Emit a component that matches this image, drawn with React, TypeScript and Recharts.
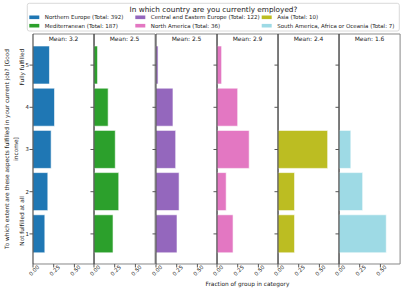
import React from 'react';
import { BarChart, Bar, XAxis, YAxis } from 'recharts';

// answer levels, top to bottom
const LEVELS = [5, 4, 3, 2, 1];
const LEVEL_NAMES: Record<number, string> = {
  5: 'Fully fulfilled',
  1: 'Not fulfilled at all',
};

const REGIONS = [
  'Northern Europe',
  'Mediterranean',
  'Central and Eastern Europe',
  'North America',
  'Asia',
  'South America, Africa or Oceania',
];
const TOTALS = [392, 187, 122, 36, 10, 7];
const COLORS = ['#1f77b4', '#2ca02c', '#9467bd', '#e377c2', '#bcbd22', '#9edae5'];

// fraction of group per level (5 -> 1)
const NORTHERN_EUROPE = [0.199, 0.26, 0.219, 0.179, 0.143];
const MEDITERRANEAN = [0.043, 0.171, 0.257, 0.299, 0.23];
const CENTRAL_EASTERN = [0.025, 0.205, 0.238, 0.279, 0.254];
const NORTH_AMERICA = [0.056, 0.25, 0.389, 0.111, 0.194];
const ASIA = [0, 0, 0.6, 0.2, 0.2];
const SOUTH_AMERICA_AFRICA_OCEANIA = [0, 0, 0.143, 0.286, 0.571];

const SERIES = [
  NORTHERN_EUROPE,
  MEDITERRANEAN,
  CENTRAL_EASTERN,
  NORTH_AMERICA,
  ASIA,
  SOUTH_AMERICA_AFRICA_OCEANIA,
];

const X_TICKS = [0, 0.25, 0.5];
const X_MAX = 0.738;

const FONT = 'DejaVu Sans, sans-serif';
const PANEL_LEFT = 33.3;
const PANEL_W = 61.1;
const MARGIN_L = 33; // + 1px y axis = 34
const TOP = 33; // + 1px top axis = 34
const BOTTOM = 26; // + 1px x axis
const FIG_W = 407;
const FIG_H = 291;

const renderXTick = ({ x, y, payload }: any) => (
  <text
    key={`xt-${payload.value}`}
    x={x + 1}
    y={y + 3}
    transform={`rotate(-45 ${x + 1} ${y + 3})`}
    textAnchor="middle"
    dominantBaseline="central"
    fontSize={5.4}
    fontFamily={FONT}
    fill="#222"
  >
    {Number(payload.value).toFixed(2)}
  </text>
);

const renderYTick = ({ x, y, payload }: any) => {
  const name = LEVEL_NAMES[payload.value];
  const dy = payload.value === 1 ? -13 : 2;
  return (
    <g key={`yt-${payload.value}`}>
      <text x={x - 0.5} y={y} textAnchor="end" dominantBaseline="central" fontSize={5.4} fontFamily={FONT} fill="#222">
        {payload.value}
      </text>
      {name && (
        <text
          x={x - 7}
          y={y + dy}
          transform={`rotate(-90 ${x - 7} ${y + dy})`}
          textAnchor="middle"
          dominantBaseline="central"
          fontSize={5.8}
          fontFamily={FONT}
          fill="#222"
        >
          {name}
        </text>
      )}
    </g>
  );
};

const renderNoTick = ({ payload }: any) => <g key={`nt-${payload.value}`} />;

const Panel = ({ index }: { index: number }) => {
  const values = SERIES[index];
  const data = LEVELS.map((level, i) => ({ level, value: values[i] }));
  const sum = values.reduce((a, b) => a + b, 0);
  const mean = values.reduce((a, v, i) => a + v * LEVELS[i], 0) / sum;
  const left = PANEL_LEFT + index * PANEL_W - MARGIN_L - 1;
  return (
    <div style={{ position: 'absolute', left, top: 0 }}>
      <BarChart
        width={MARGIN_L + 1 + PANEL_W + 2}
        height={FIG_H}
        data={data}
        layout="vertical"
        margin={{ top: TOP, right: 1, bottom: BOTTOM, left: MARGIN_L }}
        barSize={38}
      >
        <XAxis
          type="number"
          scale="linear"
          domain={[0, X_MAX]}
          ticks={X_TICKS}
          interval={0}
          minTickGap={0}
          height={1}
          tick={renderXTick}
          tickSize={3.5}
          tickMargin={0}
          stroke="#888"
          tickLine={{ stroke: '#555' }}
        />
        <XAxis
          xAxisId="top"
          orientation="top"
          type="number"
          domain={[0, X_MAX]}
          height={1}
          tick={false}
          tickLine={false}
          stroke="#888"
          label={{
            value: `Mean: ${mean.toFixed(1)}`,
            position: 'bottom',
            offset: 2.5,
            fontSize: 6,
            fontFamily: FONT,
            fill: '#222',
          }}
        />
        <YAxis
          type="category"
          dataKey="level"
          width={1}
          interval={0}
          padding={{ top: 10, bottom: 9 }}
          tick={index === 0 ? renderYTick : renderNoTick}
          tickSize={3.5}
          tickMargin={0}
          stroke="#333"
          tickLine={{ stroke: '#555' }}
        />
        <YAxis
          yAxisId="right"
          orientation="right"
          type="category"
          dataKey="level"
          width={1}
          tick={false}
          tickLine={false}
          stroke="#888"
        />
        <Bar
          dataKey="value"
          fill={COLORS[index]}
          stroke="#ffffff"
          strokeOpacity={0.6}
          strokeWidth={1}
          isAnimationActive={false}
        />
      </BarChart>
    </div>
  );
};

const LEGEND_COLS = [29.3, 135.3, 261.7];
const LEGEND_ROWS = [17.3, 25.7];

const Overlay = () => (
  <svg
    width={FIG_W}
    height={FIG_H}
    style={{ position: 'absolute', left: 0, top: 0, pointerEvents: 'none' }}
  >
    <rect x={27.3} y={3.3} width={372} height={27.7} rx={2} fill="#fff" stroke="#d0d0d0" strokeWidth={0.8} />
    <text x={213.5} y={9.3} textAnchor="middle" dominantBaseline="central" fontSize={7.3} fontFamily={FONT} fill="#222">
      In which country are you currently employed?
    </text>
    {REGIONS.map((name, i) => {
      const col = Math.floor(i / 2);
      const row = i % 2;
      const x = LEGEND_COLS[col];
      const y = LEGEND_ROWS[row];
      return (
        <g key={name}>
          <rect x={x} y={y - 1.8} width={10} height={3.6} fill={COLORS[i]} />
          <text x={x + 15.5} y={y} dominantBaseline="central" fontSize={5.5} fontFamily={FONT} fill="#222">
            {`${name} (Total: ${TOTALS[i]})`}
          </text>
        </g>
      );
    })}
    <text x={247.5} y={284} textAnchor="middle" dominantBaseline="central" fontSize={5.8} fontFamily={FONT} fill="#222">
      Fraction of group in category
    </text>
    <text x={7} y={149} transform="rotate(-90 7 149)" textAnchor="middle" dominantBaseline="central" fontSize={5.8} fontFamily={FONT} fill="#222">
      To which extent are these aspects fulfilled in your current job? [Good
    </text>
    <text x={15.5} y={149} transform="rotate(-90 15.5 149)" textAnchor="middle" dominantBaseline="central" fontSize={5.8} fontFamily={FONT} fill="#222">
      income]
    </text>
  </svg>
);

export default function App() {
  return (
    <div
      style={{
        position: 'absolute',
        left: 0,
        top: 0,
        width: FIG_W,
        height: FIG_H,
        background: '#fff',
        overflow: 'hidden',
      }}
    >
      {REGIONS.map((r, i) => (
        <Panel key={r} index={i} />
      ))}
      <Overlay />
    </div>
  );
}
